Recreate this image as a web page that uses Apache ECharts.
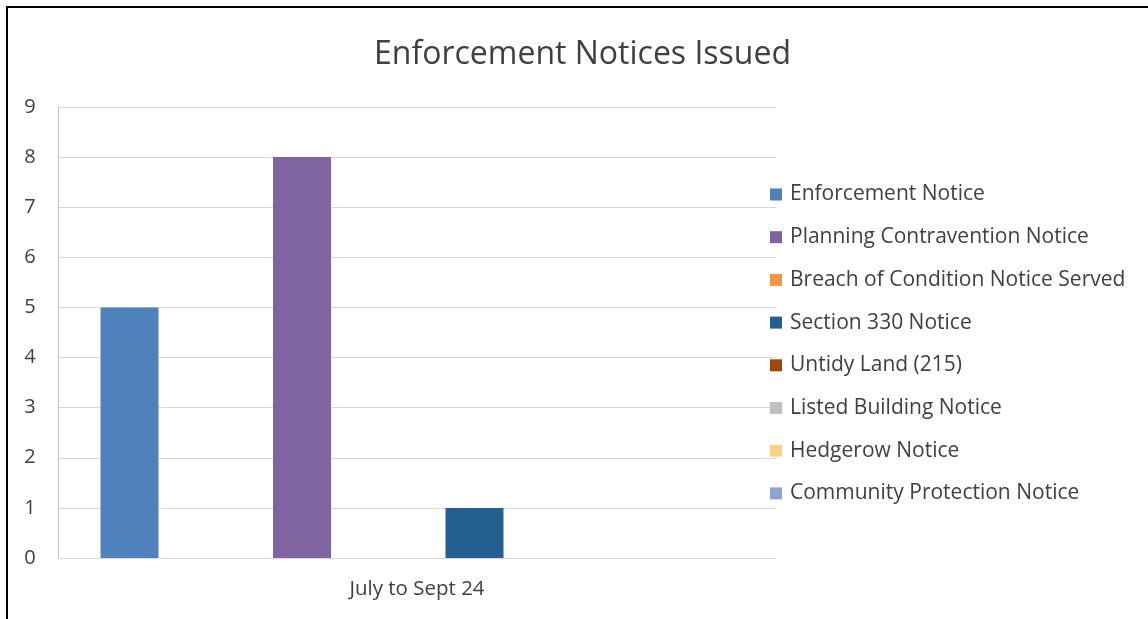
<!DOCTYPE html>
<html>
<head>
<meta charset="utf-8">
<style>
html,body{margin:0;padding:0;background:#fff;}
#chart{width:1148px;height:619px;}
</style>
<script src="https://cdn.jsdelivr.net/npm/echarts@6/dist/echarts.min.js"></script>
</head>
<body>
<div id="chart"></div>
<script>
var title = 'Enforcement Notices Issued';
var categories = ['July to Sept 24'];
var seriesNames = ['Enforcement Notice','Planning Contravention Notice','Breach of Condition Notice Served','Section 330 Notice','Untidy Land (215)','Listed Building Notice','Hedgerow Notice','Community Protection Notice'];
var seriesValues = [[5],[8],[null],[1],[null],[null],[null],[null]];
var seriesColors = ['#4f81bd','#8064a2','#f79646','#255e91','#9e480e','#bfbfbf','#ffd27f','#8fa3d6'];
var drawnOnMain = [true,true,false,true,false,false,false,false];
var yTicks = [0,1,2,3,4,5,6,7,8,9];

var FONT = 'Open Sans';
var series = [];
seriesNames.forEach(function(n,i){
  series.push({
    name:n, type:'bar',
    xAxisIndex: drawnOnMain[i] ? 0 : 1,
    data: seriesValues[i],
    barWidth: 58,
    barGap: '197.4%',
    itemStyle:{color:seriesColors[i]},
    emphasis:{disabled:true}
  });
});
// spacer slot after the drawn bars (empty)
series.push({name:'__spacer', type:'bar', xAxisIndex:0, data:[null], barWidth:115.5, barGap:'197.4%', itemStyle:{color:'transparent'}});

var chart = echarts.init(document.getElementById('chart'));
chart.setOption({
  animation:false,
  backgroundColor:'#fff',
  title:{text:title,left:369,top:34,
    textStyle:{fontFamily:FONT,fontSize:32,fontWeight:'normal',color:'#404040'}},
  grid:{left:58,right:372,top:107,bottom:61,containLabel:false},
  legend:{
    data:seriesNames, orient:'vertical', left:770, top:184, padding:0,
    itemWidth:12, itemHeight:12, itemGap:21.7, icon:'rect',
    textStyle:{fontFamily:FONT,fontSize:21,lineHeight:21,color:'#404040',padding:[0,0,0,3]},
    selectedMode:false
  },
  xAxis:[{
    type:'category', data:categories,
    axisLine:{lineStyle:{color:'#d9d9d9',width:1}},
    axisTick:{show:false},
    axisLabel:{fontFamily:FONT,fontSize:20.5,color:'#404040',margin:21}
  },{
    type:'category', data:categories, show:false
  }],
  yAxis:{
    type:'value', min:0, max:9, interval:1,
    axisLine:{show:true,lineStyle:{color:'#bfbfbf'}},
    axisTick:{show:false},
    axisLabel:{fontFamily:FONT,fontSize:20,color:'#404040',margin:28,align:'center',
      formatter:function(v){return yTicks.indexOf(v)>=0?String(v):'';}},
    splitLine:{lineStyle:{color:'#d9d9d9',width:1}}
  },
  graphic:[{
    type:'polyline', silent:true,
    shape:{points:[[7,619],[7,7],[1148,7]]},
    style:{stroke:'#000',lineWidth:2,fill:null}
  }],
  series:series
});
</script>
</body>
</html>
